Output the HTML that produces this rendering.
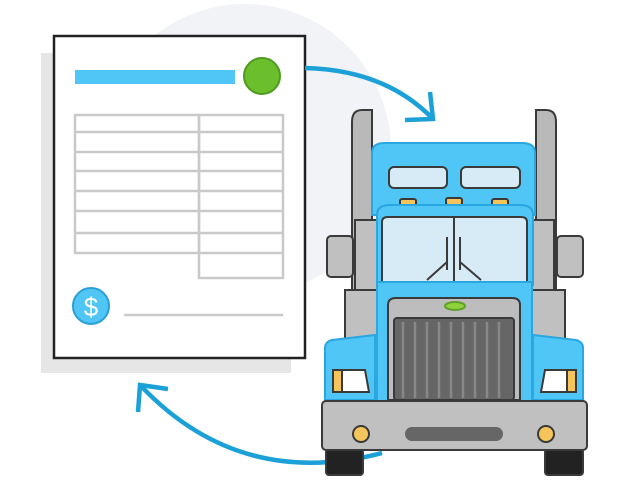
<!DOCTYPE html>
<html><head><meta charset="utf-8"><style>
html,body{margin:0;padding:0;background:#fff;width:640px;height:480px;overflow:hidden}
</style></head><body>
<svg width="640" height="480" viewBox="0 0 640 480" xmlns="http://www.w3.org/2000/svg" font-family="Liberation Sans, sans-serif">
<circle cx="245" cy="150" r="146" fill="#f1f3f6"/>
<rect x="41" y="53" width="250" height="320" fill="#e6e6e6"/>
<rect x="54" y="36" width="251" height="322" fill="#fff" stroke="#222" stroke-width="2.5"/>
<rect x="75" y="70" width="160" height="14" fill="#4fc6f5"/>
<circle cx="262" cy="76" r="18" fill="#6cbf2c" stroke="#4f9a20" stroke-width="2"/>
<g stroke="#c9c9c9" stroke-width="2.5" fill="none">
<rect x="75" y="115" width="124" height="138"/>
<rect x="199" y="115" width="84" height="163"/>
<path d="M75 132H283M75 152H283M75 171H283M75 191H283M75 211H283M75 233H283M199 253H283"/>
<path d="M124 315H283"/>
</g>
<circle cx="91" cy="306" r="18" fill="#4fc6f5" stroke="#2a9fd6" stroke-width="2"/>
<text x="91" y="316" font-size="26" fill="#fff" text-anchor="middle">$</text>
<g stroke="#1ba0d8" stroke-width="4.5" fill="none" stroke-linecap="butt">
<path d="M305 68 Q385 70 432 118"/>
<path d="M405 120 L433 119 L430 92"/>
<path d="M382 453 Q240 490 141 386"/>
<path d="M138 412 L140 385 L168 389"/>
</g>
<g stroke="#3a3a3a" stroke-width="2">
<path d="M352 300 V122 Q352 110 362 110 H372 V300 Z" fill="#b9b9b9"/>
<path d="M556 300 V122 Q556 110 546 110 H536 V300 Z" fill="#b9b9b9"/>
<rect x="327" y="236" width="26" height="41" rx="4" fill="#c0c0c0"/>
<rect x="557" y="236" width="26" height="41" rx="4" fill="#c0c0c0"/>
<rect x="355" y="220" width="24" height="72" fill="#c0c0c0"/>
<rect x="530" y="220" width="24" height="72" fill="#c0c0c0"/>
<rect x="345" y="290" width="35" height="60" fill="#c0c0c0"/>
<rect x="530" y="290" width="35" height="60" fill="#c0c0c0"/>
<path d="M372 215 V153 Q372 143 385 143 H522 Q535 143 535 153 V215 Z" fill="#4fc6f5" stroke="#2aa7e0"/>
<rect x="389" y="167" width="58" height="21" rx="5" fill="#d6ebf5"/>
<rect x="461" y="167" width="59" height="21" rx="5" fill="#d6ebf5"/>
<rect x="400" y="199" width="16" height="7" rx="2" fill="#f5c45a"/>
<rect x="446" y="198" width="16" height="7" rx="2" fill="#f5c45a"/>
<rect x="492" y="199" width="16" height="7" rx="2" fill="#f5c45a"/>
<path d="M377 285 V215 Q377 205 390 205 H520 Q533 205 533 215 V285 Z" fill="#4fc6f5" stroke="#2aa7e0"/>
<path d="M382 282 V222 Q382 217 388 217 H521 Q527 217 527 222 V282 Z" fill="#d6ebf5"/>
<path d="M454 217 V282 M447 237 V270 M460 237 V270 M427 280 L447 262 M481 280 L460 262" fill="none"/>
<rect x="377" y="282" width="155" height="120" fill="#4fc6f5" stroke="#2aa7e0"/>
<path d="M388 400 V305 Q388 298 396 298 H512 Q520 298 520 305 V400 Z" fill="#bdbdbd"/>
<rect x="394" y="318" width="120" height="82" rx="3" fill="#666"/>
<ellipse cx="455" cy="306" rx="10" ry="4" fill="#8fd13a" stroke="#5fa02a"/>
<path d="M325 400 V348 Q325 342 332 340 L375 335 V400 Z" fill="#4fc6f5" stroke="#2aa7e0"/>
<path d="M583 400 V348 Q583 342 576 340 L533 335 V400 Z" fill="#4fc6f5" stroke="#2aa7e0"/>
<path d="M333 370 H365 L369 392 H333 Z" fill="#fff"/>
<rect x="333" y="370" width="9" height="22" fill="#f5c45a"/>
<path d="M545 370 H576 V392 H541 Z" fill="#fff"/>
<rect x="567" y="370" width="9" height="22" fill="#f5c45a"/>
<rect x="326" y="449" width="37" height="26" rx="3" fill="#222"/>
<rect x="545" y="449" width="38" height="26" rx="3" fill="#222"/>
<rect x="322" y="401" width="265" height="49" rx="4" fill="#c0c0c0"/>
<rect x="405" y="427" width="98" height="14" rx="7" fill="#666" stroke="none"/>
<circle cx="361" cy="434" r="8" fill="#f5c45a"/>
<circle cx="546" cy="434" r="8" fill="#f5c45a"/>
</g>
<g stroke="#888" stroke-width="2.5">
<path d="M403 322V398M415 322V398M427 322V398M439 322V398M451 322V398M463 322V398M475 322V398M487 322V398M499 322V398"/>
</g>
</svg>
</body></html>
